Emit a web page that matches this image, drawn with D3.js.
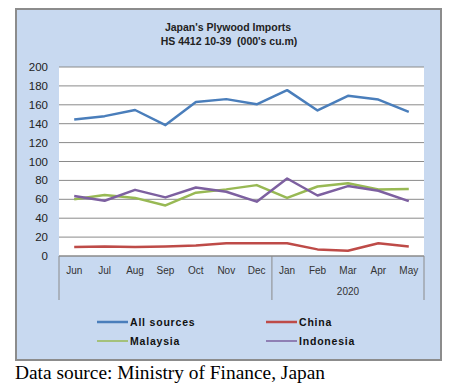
<!DOCTYPE html>
<html><head><meta charset="utf-8">
<script src="https://cdn.jsdelivr.net/npm/d3@7"></script>
<style>html,body{margin:0;padding:0;background:#fff;}</style>
</head><body>
<svg id="c" width="456" height="392"></svg>
<script>
const months = ["Jun","Jul","Aug","Sep","Oct","Nov","Dec","Jan","Feb","Mar","Apr","May"];
const yearLabel = "2020";
const allSources = [144.5,148,154.5,138.5,163,166,160.5,175.5,154,169.5,165.5,152.5];
const china = [9.5,10,9.5,10,11,13.5,13.5,13.5,7,5.5,13.5,10];
const malaysia = [60,64.5,61.5,53.5,67,70.5,75,61.5,73.5,77,70.5,71];
const indonesia = [63.5,58.5,70,62,72.5,68,57.5,82,64,74,69,58];
const yTicks = [0,20,40,60,80,100,120,140,160,180,200];
const seriesNames = ["All sources","China","Malaysia","Indonesia"];
const seriesColors = ["#4a7ebb","#be4b48","#98b954","#7d60a0"];

const svg = d3.select("#c");
// outer frame
svg.append("rect").attr("x",16).attr("y",9).attr("width",425).attr("height",351)
  .attr("fill","#c8d9f0").attr("stroke","#8c8c8c").attr("stroke-width",2);

const L=59,R=424,T=67,B=256;
const x = d3.scaleBand().domain(months).range([L,R]);
const y = d3.scaleLinear().domain([0,200]).range([B,T]);

svg.append("rect").attr("x",L).attr("y",T).attr("width",R-L).attr("height",B-T).attr("fill","#fff");

// gridlines
svg.append("g").selectAll("line").data(yTicks).join("line")
  .attr("x1",L).attr("x2",R).attr("y1",d=>y(d)).attr("y2",d=>y(d))
  .attr("stroke","#8a8a8a").attr("stroke-width",1);

// y labels
svg.append("g").selectAll("text").data(yTicks).join("text")
  .attr("x",48).attr("y",d=>y(d)+4).attr("text-anchor","end")
  .attr("font-family","Liberation Sans, Arial, sans-serif").attr("font-size",11.5).attr("fill","#222")
  .text(d=>d);

// x axis separators
const sepX = [L, x("Jan"), R];
svg.append("g").selectAll("line").data(sepX).join("line")
  .attr("x1",d=>d).attr("x2",d=>d).attr("y1",B).attr("y2",300)
  .attr("stroke","#8a8a8a").attr("stroke-width",1);
svg.append("line").attr("x1",L).attr("x2",R).attr("y1",B).attr("y2",B).attr("stroke","#8a8a8a");

svg.append("g").selectAll("text").data(months).join("text")
  .attr("x",d=>x(d)+x.bandwidth()/2).attr("y",274).attr("text-anchor","middle")
  .attr("font-family","Liberation Sans, Arial, sans-serif").attr("font-size",10).attr("fill","#333")
  .text(d=>d);
svg.append("text").attr("x",(x("Jan")+R)/2).attr("y",295).attr("text-anchor","middle")
  .attr("font-family","Liberation Sans, Arial, sans-serif").attr("font-size",10).attr("fill","#333")
  .text(yearLabel);

// lines
const line = d3.line().x((d,i)=>x(months[i])+x.bandwidth()/2).y(d=>y(d));
const data = [allSources, china, malaysia, indonesia];
svg.append("g").selectAll("path").data(data).join("path")
  .attr("d",line).attr("fill","none")
  .attr("stroke",(d,i)=>seriesColors[i]).attr("stroke-width",2.5).attr("stroke-linejoin","round");

// title
const tf = "Liberation Sans, Arial, sans-serif";
svg.append("text").attr("x",228).attr("y",31).attr("text-anchor","middle")
  .attr("font-family",tf).attr("font-weight","bold").attr("font-size",10.5).attr("fill","#222")
  .text("Japan's Plywood Imports");
svg.append("text").attr("x",229).attr("y",45).attr("text-anchor","middle")
  .attr("font-family",tf).attr("font-weight","bold").attr("font-size",10.5).attr("fill","#222")
  .attr("xml:space","preserve")
  .text("HS 4412 10-39  (000's cu.m)");

// legend
const legPos = [[97,322],[266,322],[97,341],[266,341]];
const lg = svg.append("g").selectAll("g").data(seriesNames).join("g")
  .attr("transform",(d,i)=>`translate(${legPos[i][0]},${legPos[i][1]})`);
lg.append("line").attr("x1",0).attr("x2",31).attr("y1",0).attr("y2",0)
  .attr("stroke",(d,i)=>seriesColors[i]).attr("stroke-width",(d,i)=>i>=2?1.5:2.5);
lg.append("text").attr("x",33).attr("y",4)
  .attr("font-family",tf).attr("font-weight","bold").attr("font-size",10.5)
  .attr("letter-spacing",0.8).attr("fill","#111")
  .text(d=>d);

// source
svg.append("text").attr("x",15).attr("y",379)
  .attr("font-family","Liberation Serif, Times New Roman, serif").attr("font-size",18.5).attr("fill","#000")
  .attr("textLength",310).attr("lengthAdjust","spacingAndGlyphs")
  .text("Data source: Ministry of Finance, Japan");
</script>
</body></html>
